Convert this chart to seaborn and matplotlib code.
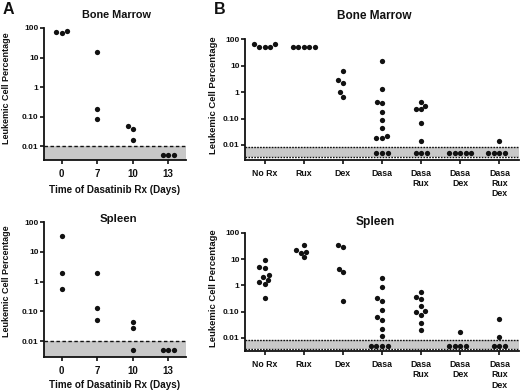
import warnings
import pandas as pd
import seaborn as sns
import matplotlib.pyplot as plt

warnings.filterwarnings('ignore')

# panel A : days of dasatinib treatment
a_days = ['0', '7', '10', '13']
a_bm = [[80, 72, 68], [16, 0.18, 0.087], [0.048, 0.038, 0.017], [0.005, 0.005, 0.005]]
a_sp = [[35, 1.9, 0.57], [1.9, 0.13, 0.052], [0.043, 0.027, 0.005], [0.005, 0.005, 0.005]]

# panel B : treatment groups
b_groups = ['No Rx', 'Rux', 'Dex', 'Dasa', 'Dasa\nRux', 'Dasa\nDex', 'Dasa\nRux\nDex']
b_bm = [
    [50, 51, 52, 66, 68],
    [51, 51, 51, 51, 51],
    [6.3, 3.0, 2.3, 1.0, 0.66],
    [15, 1.3, 0.43, 0.38, 0.18, 0.085, 0.043, 0.022, 0.019, 0.018, 0.005, 0.005, 0.005],
    [0.43, 0.30, 0.23, 0.22, 0.068, 0.014, 0.005, 0.005, 0.005],
    [0.005, 0.005, 0.005, 0.005, 0.005],
    [0.014, 0.005, 0.005, 0.005, 0.005],
]
b_sp = [
    [9.4, 4.9, 4.6, 2.5, 2.0, 1.6, 1.3, 1.1, 0.33],
    [33, 22.5, 18, 17, 11.5],
    [33, 28, 4.2, 3.1, 0.26],
    [1.9, 0.9, 0.32, 0.25, 0.12, 0.063, 0.05, 0.021, 0.012, 0.005, 0.005, 0.005, 0.005],
    [0.56, 0.35, 0.30, 0.17, 0.11, 0.095, 0.077, 0.036, 0.020],
    [0.017, 0.005, 0.005, 0.005, 0.005],
    [0.053, 0.011, 0.005, 0.005, 0.005],
]

y_ticks = [0.01, 0.1, 1, 10, 100]
y_ticklabels = ['0.01', '0.10', '1', '10', '100']


def long_df(groups, values):
    rows = [(g, v) for g, vals in zip(groups, values) for v in vals]
    return pd.DataFrame(rows, columns=['grp', 'val'])


sns.set_theme(style='ticks')
plt.rcParams['font.family'] = ['Liberation Sans', 'DejaVu Sans']
plt.rcParams['font.weight'] = 'bold'

W, H = 520, 392
fig = plt.figure(figsize=(W / 100, H / 100), dpi=100)


def px_axes(left, top, right, bottom):
    return fig.add_axes([left / W, 1 - bottom / H, (right - left) / W, (bottom - top) / H])


def ftext(x, y, s, **kw):
    fig.text(x / W, 1 - y / H, s, ha='center', va='center', color='#111111', **kw)


def panel(ax, groups, values, ylo, band, xsize):
    df = long_df(groups, values)
    sns.swarmplot(data=df, x='grp', y='val', order=groups, color='#111111',
                  size=3.8, ax=ax, log_scale=True, clip_on=False, zorder=3)
    ax.set_ylim(ylo, 100)
    ax.set_xlim(-0.5, len(groups) - 0.5)
    ax.set_yticks(y_ticks)
    ax.set_yticklabels(y_ticklabels)
    ax.minorticks_off()
    if band is None:
        ax.axhspan(ylo, 0.01, color='#c8c8c8', lw=0, zorder=0)
        ax.axhline(0.01, color='#111111', lw=1.0, ls=(0, (2.5, 1.8)), zorder=1)
    else:
        ax.axhspan(band[0], band[1], color='#c8c8c8', lw=0, zorder=0)
        for yv in band:
            ax.axhline(yv, color='#111111', lw=1.0, ls=(0, (1.2, 0.9)), zorder=1)
    ax.set_xlabel('')
    ax.set_ylabel('')
    sns.despine(ax=ax)
    for s in ['left', 'bottom']:
        ax.spines[s].set_linewidth(1.3)
        ax.spines[s].set_color('#111111')
    ax.tick_params(axis='y', length=3, width=1.2, pad=1, labelsize=6, colors='#111111')
    ax.tick_params(axis='x', length=3, width=1.2, pad=3.5, labelsize=xsize, colors='#111111')
    ax.patch.set_alpha(0)


ax1 = px_axes(44, 28, 186, 160)
panel(ax1, a_days, a_bm, 0.0035, None, 7.0)
ax2 = px_axes(44, 222.3, 186, 357)
panel(ax2, a_days, a_sp, 0.0029, None, 7.0)
ax3 = px_axes(245, 39.3, 519, 159.5)
panel(ax3, b_groups, b_bm, 0.0028, (0.0035, 0.0082), 6.3)
ax4 = px_axes(245, 232.7, 519, 351)
panel(ax4, b_groups, b_sp, 0.0032, (0.0037, 0.0082), 6.3)

ftext(8, 10, 'A', fontsize=11.5, fontweight='bold')
ftext(220, 9, 'B', fontsize=11.5, fontweight='bold')
ftext(117, 15.5, 'Bone Marrow', fontsize=7.8, fontweight='bold')
ftext(118, 219.5, 'Spleen', fontsize=8.2, fontweight='bold')
ftext(374, 16, 'Bone Marrow', fontsize=8.5, fontweight='bold')
ftext(375, 222, 'Spleen', fontsize=8.6, fontweight='bold')
ftext(115, 190, 'Time of Dasatinib Rx (Days)', fontsize=7.1, fontweight='bold')
ftext(115, 385, 'Time of Dasatinib Rx (Days)', fontsize=7.1, fontweight='bold')
ftext(6.5, 88, 'Leukemic Cell Percentage', fontsize=6.5, fontweight='bold', rotation=90)
ftext(6.5, 281, 'Leukemic Cell Percentage', fontsize=6.5, fontweight='bold', rotation=90)
ftext(214, 95, 'Leukemic Cell Percentage', fontsize=6.8, fontweight='bold', rotation=90)
ftext(214, 288, 'Leukemic Cell Percentage', fontsize=6.8, fontweight='bold', rotation=90)

fig.savefig('out.png', dpi=100)
